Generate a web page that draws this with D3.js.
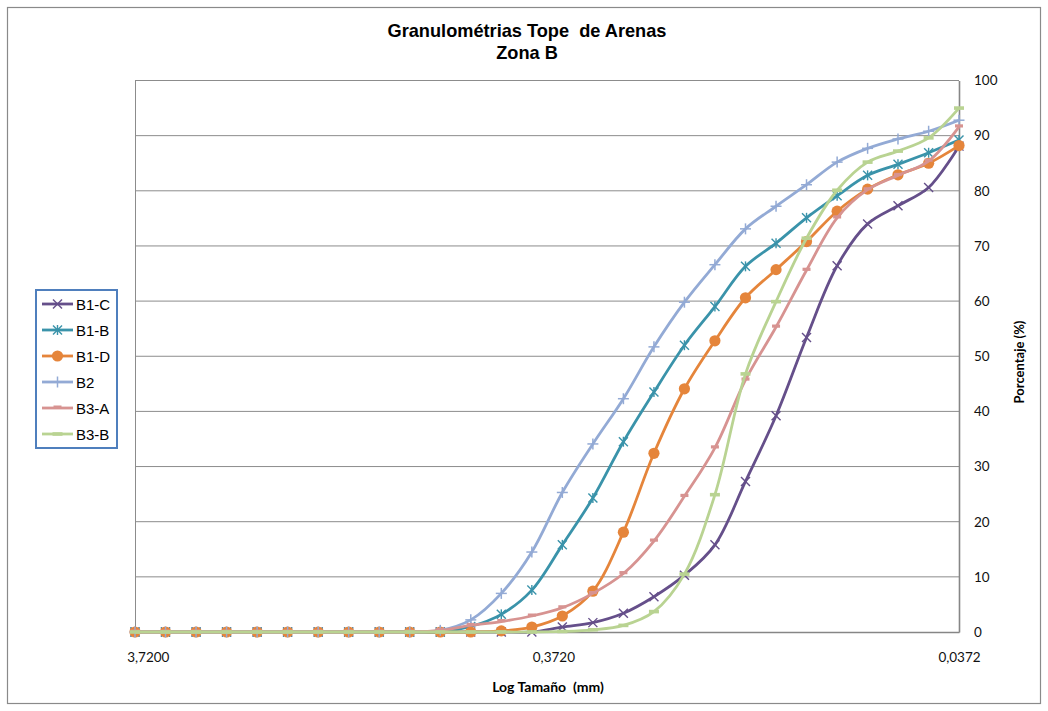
<!DOCTYPE html>
<html>
<head>
<meta charset="utf-8">
<script src="https://cdn.jsdelivr.net/npm/d3@7"></script>
<style>
  html, body { margin: 0; padding: 0; background: #fff; }
  svg { display: block; }
  .pre { white-space: pre; }
</style>
</head>
<body>
<script>
// Sieve sizes (mm), quarter-phi intervals from 4 mm down to 0.0372 mm
const sizes = [4.0, 3.3636, 2.8284, 2.3784, 2.0, 1.6818, 1.4142, 1.1892, 1.0, 0.8409,
  0.7071, 0.5946, 0.5, 0.4204, 0.3536, 0.2973, 0.25, 0.2102, 0.1768, 0.1487,
  0.125, 0.1051, 0.0884, 0.0743, 0.0625, 0.0526, 0.0442, 0.0372];

// Cumulative percentage for each sample
const b1c = [0, 0, 0, 0, 0, 0, 0, 0, 0, 0, 0, 0, 0, 0, 0.9, 1.7, 3.4, 6.4, 10.3, 15.8,
  27.3, 39.2, 53.4, 66.4, 74.0, 77.3, 80.6, 88.1];
const b1b = [0, 0, 0, 0, 0, 0, 0, 0, 0, 0, 0, 1.0, 3.2, 7.6, 15.8, 24.3, 34.5, 43.5, 52.0, 59.0,
  66.3, 70.5, 75.1, 79.1, 82.8, 84.8, 86.9, 89.2];
const b1d = [0, 0, 0, 0, 0, 0, 0, 0, 0, 0, 0, 0, 0.2, 0.9, 2.9, 7.4, 18.1, 32.4, 44.1, 52.8,
  60.6, 65.7, 70.8, 76.3, 80.3, 82.9, 85.0, 88.2];
const b2 = [0, 0, 0, 0, 0, 0, 0, 0, 0, 0, 0.3, 2.2, 7.0, 14.5, 25.3, 34.1, 42.3, 51.7, 59.8, 66.6,
  73.1, 77.2, 81.1, 85.2, 87.7, 89.4, 90.8, 92.8];
const b3a = [0, 0, 0, 0, 0, 0, 0, 0, 0, 0, 0.3, 1.2, 1.9, 2.9, 4.4, 7.0, 10.6, 16.5, 24.6, 33.4,
  45.7, 55.3, 65.6, 75.1, 80.2, 82.8, 85.4, 91.6];
const b3b = [0, 0, 0, 0, 0, 0, 0, 0, 0, 0, 0, 0, 0, 0, 0.1, 0.4, 1.2, 3.7, 10.5, 24.9,
  46.8, 59.9, 71.4, 80.1, 85.2, 87.2, 89.6, 95.0];

const seriesNames = ["B1-C", "B1-B", "B1-D", "B2", "B3-A", "B3-B"];
const seriesValues = [b1c, b1b, b1d, b2, b3a, b3b];
const seriesColors = ["#654f8a", "#3a93aa", "#e5853b", "#93aad5", "#d79391", "#b9d392"];
const seriesMarkers = ["x", "star", "circle", "plus", "dashA", "dashB"];

const xTickValues = [3.72, 0.372, 0.0372];
const xTickLabels = ["3,7200", "0,3720", "0,0372"];
const yTickValues = [0, 10, 20, 30, 40, 50, 60, 70, 80, 90, 100];

const W = 1048, H = 711;
const plot = { left: 135, right: 959, top: 80.5, bottom: 632 };

const svg = d3.select("body").append("svg").attr("width", W).attr("height", H);

// chart frame
svg.append("rect").attr("x", 7.5).attr("y", 7.5).attr("width", 1033).attr("height", 696)
  .attr("fill", "#fff").attr("stroke", "#8a8a8a").attr("stroke-width", 1.2);

const x = d3.scaleLog().domain([4, 0.0372]).range([plot.left, plot.right]);
const y = d3.scaleLinear().domain([0, 100]).range([plot.bottom, plot.top]);

// horizontal gridlines
svg.append("g").selectAll("line").data(yTickValues.filter(v => v > 0)).join("line")
  .attr("x1", plot.left).attr("x2", plot.right)
  .attr("y1", d => y(d)).attr("y2", d => y(d))
  .attr("stroke", "#8c8c8c").attr("stroke-width", 1);

// left edge of plot area
svg.append("line").attr("x1", plot.left + 0.5).attr("x2", plot.left + 0.5)
  .attr("y1", plot.top).attr("y2", plot.bottom)
  .attr("stroke", "#8c8c8c").attr("stroke-width", 1);

// value axis on the right
const yAxis = d3.axisRight(y).tickValues(yTickValues).tickSize(0).tickPadding(15)
  .tickFormat(d3.format("d"));
const gy = svg.append("g").attr("transform", `translate(${plot.right},0)`).call(yAxis);
gy.select(".domain").attr("stroke", "#868686").attr("stroke-width", 1.6);
gy.selectAll("text").attr("font-family", "Lato, sans-serif").attr("font-size", 13.5)
  .attr("fill", "#111");

// log size axis at the bottom
const xAxis = d3.axisBottom(x).tickValues(xTickValues).tickSize(0).tickPadding(20)
  .tickFormat((d, i) => xTickLabels[i]);
const gx = svg.append("g").attr("transform", `translate(0,${plot.bottom})`).call(xAxis);
gx.select(".domain").attr("stroke", "#868686").attr("stroke-width", 1.6);
gx.selectAll("text").attr("font-family", "Lato, sans-serif").attr("font-size", 13.5)
  .attr("fill", "#111");

// marker drawing
function drawMarker(g, type, color) {
  const s = 4.5;
  if (type === "x" || type === "star") {
    g.append("line").attr("x1", -s).attr("y1", -s).attr("x2", s).attr("y2", s);
    g.append("line").attr("x1", -s).attr("y1", s).attr("x2", s).attr("y2", -s);
    if (type === "star") g.append("line").attr("x1", 0).attr("y1", -s - 0.5).attr("x2", 0).attr("y2", s + 0.5);
    g.selectAll("line").attr("stroke", color).attr("stroke-width", 1.4);
  } else if (type === "plus") {
    g.append("line").attr("x1", -5.5).attr("y1", 0).attr("x2", 5.5).attr("y2", 0);
    g.append("line").attr("x1", 0).attr("y1", -5.5).attr("x2", 0).attr("y2", 5.5);
    g.selectAll("line").attr("stroke", color).attr("stroke-width", 1.5);
  } else if (type === "circle") {
    g.append("circle").attr("r", 5.6).attr("fill", color);
  } else if (type === "dashA") {
    g.append("rect").attr("x", -4).attr("y", -2.5).attr("width", 8).attr("height", 3.2).attr("fill", color);
  } else if (type === "dashB") {
    g.append("rect").attr("x", -5).attr("y", -1.8).attr("width", 10).attr("height", 3.6).attr("fill", color);
  }
}

const line = d3.line()
  .x((d, i) => x(sizes[i]))
  .y(d => y(d))
  .curve(d3.curveCatmullRom.alpha(0.5));

seriesValues.forEach((vals, k) => {
  const g = svg.append("g").attr("class", "series");
  g.append("path").datum(vals).attr("d", line)
    .attr("fill", "none").attr("stroke", seriesColors[k]).attr("stroke-width", 2.8)
    .attr("stroke-linejoin", "round");
  vals.forEach((v, i) => {
    const m = g.append("g").attr("transform", `translate(${x(sizes[i])},${y(v)})`);
    drawMarker(m, seriesMarkers[k], seriesColors[k]);
  });
});

// titles
const title = svg.append("text").attr("x", 527).attr("text-anchor", "middle")
  .attr("font-family", "'Liberation Sans', Arial, sans-serif").attr("font-weight", "bold")
  .attr("font-size", 18.2).attr("fill", "#000");
title.append("tspan").attr("class", "pre").attr("x", 527).attr("y", 37).text("Granulométrias Tope  de Arenas");
title.append("tspan").attr("x", 527).attr("y", 59).text("Zona B");

svg.append("text").attr("class", "pre").attr("x", 548).attr("y", 692).attr("text-anchor", "middle")
  .attr("font-family", "Lato, sans-serif").attr("font-weight", "bold").attr("font-size", 14)
  .attr("fill", "#000").text("Log Tamaño  (mm)");

svg.append("text").attr("transform", "translate(1024,362) rotate(-90)").attr("text-anchor", "middle")
  .attr("font-family", "Lato, sans-serif").attr("font-weight", "bold").attr("font-size", 13)
  .attr("fill", "#000").text("Porcentaje (%)");

// legend
const legend = svg.append("g");
legend.append("rect").attr("x", 36).attr("y", 290).attr("width", 81).attr("height", 158)
  .attr("fill", "#fff").attr("stroke", "#4f7fbd").attr("stroke-width", 2);
seriesNames.forEach((name, k) => {
  const ly = 304 + k * 26;
  const it = legend.append("g");
  it.append("line").attr("x1", 42).attr("x2", 73).attr("y1", ly).attr("y2", ly)
    .attr("stroke", seriesColors[k]).attr("stroke-width", 2.8);
  const m = it.append("g").attr("transform", `translate(57.5,${ly})`);
  drawMarker(m, seriesMarkers[k], seriesColors[k]);
  it.append("text").attr("x", 76).attr("y", ly + 5.5).attr("font-family", "'Liberation Sans', Arial, sans-serif")
    .attr("font-size", 15).attr("fill", "#000").text(name);
});
</script>
</body>
</html>
